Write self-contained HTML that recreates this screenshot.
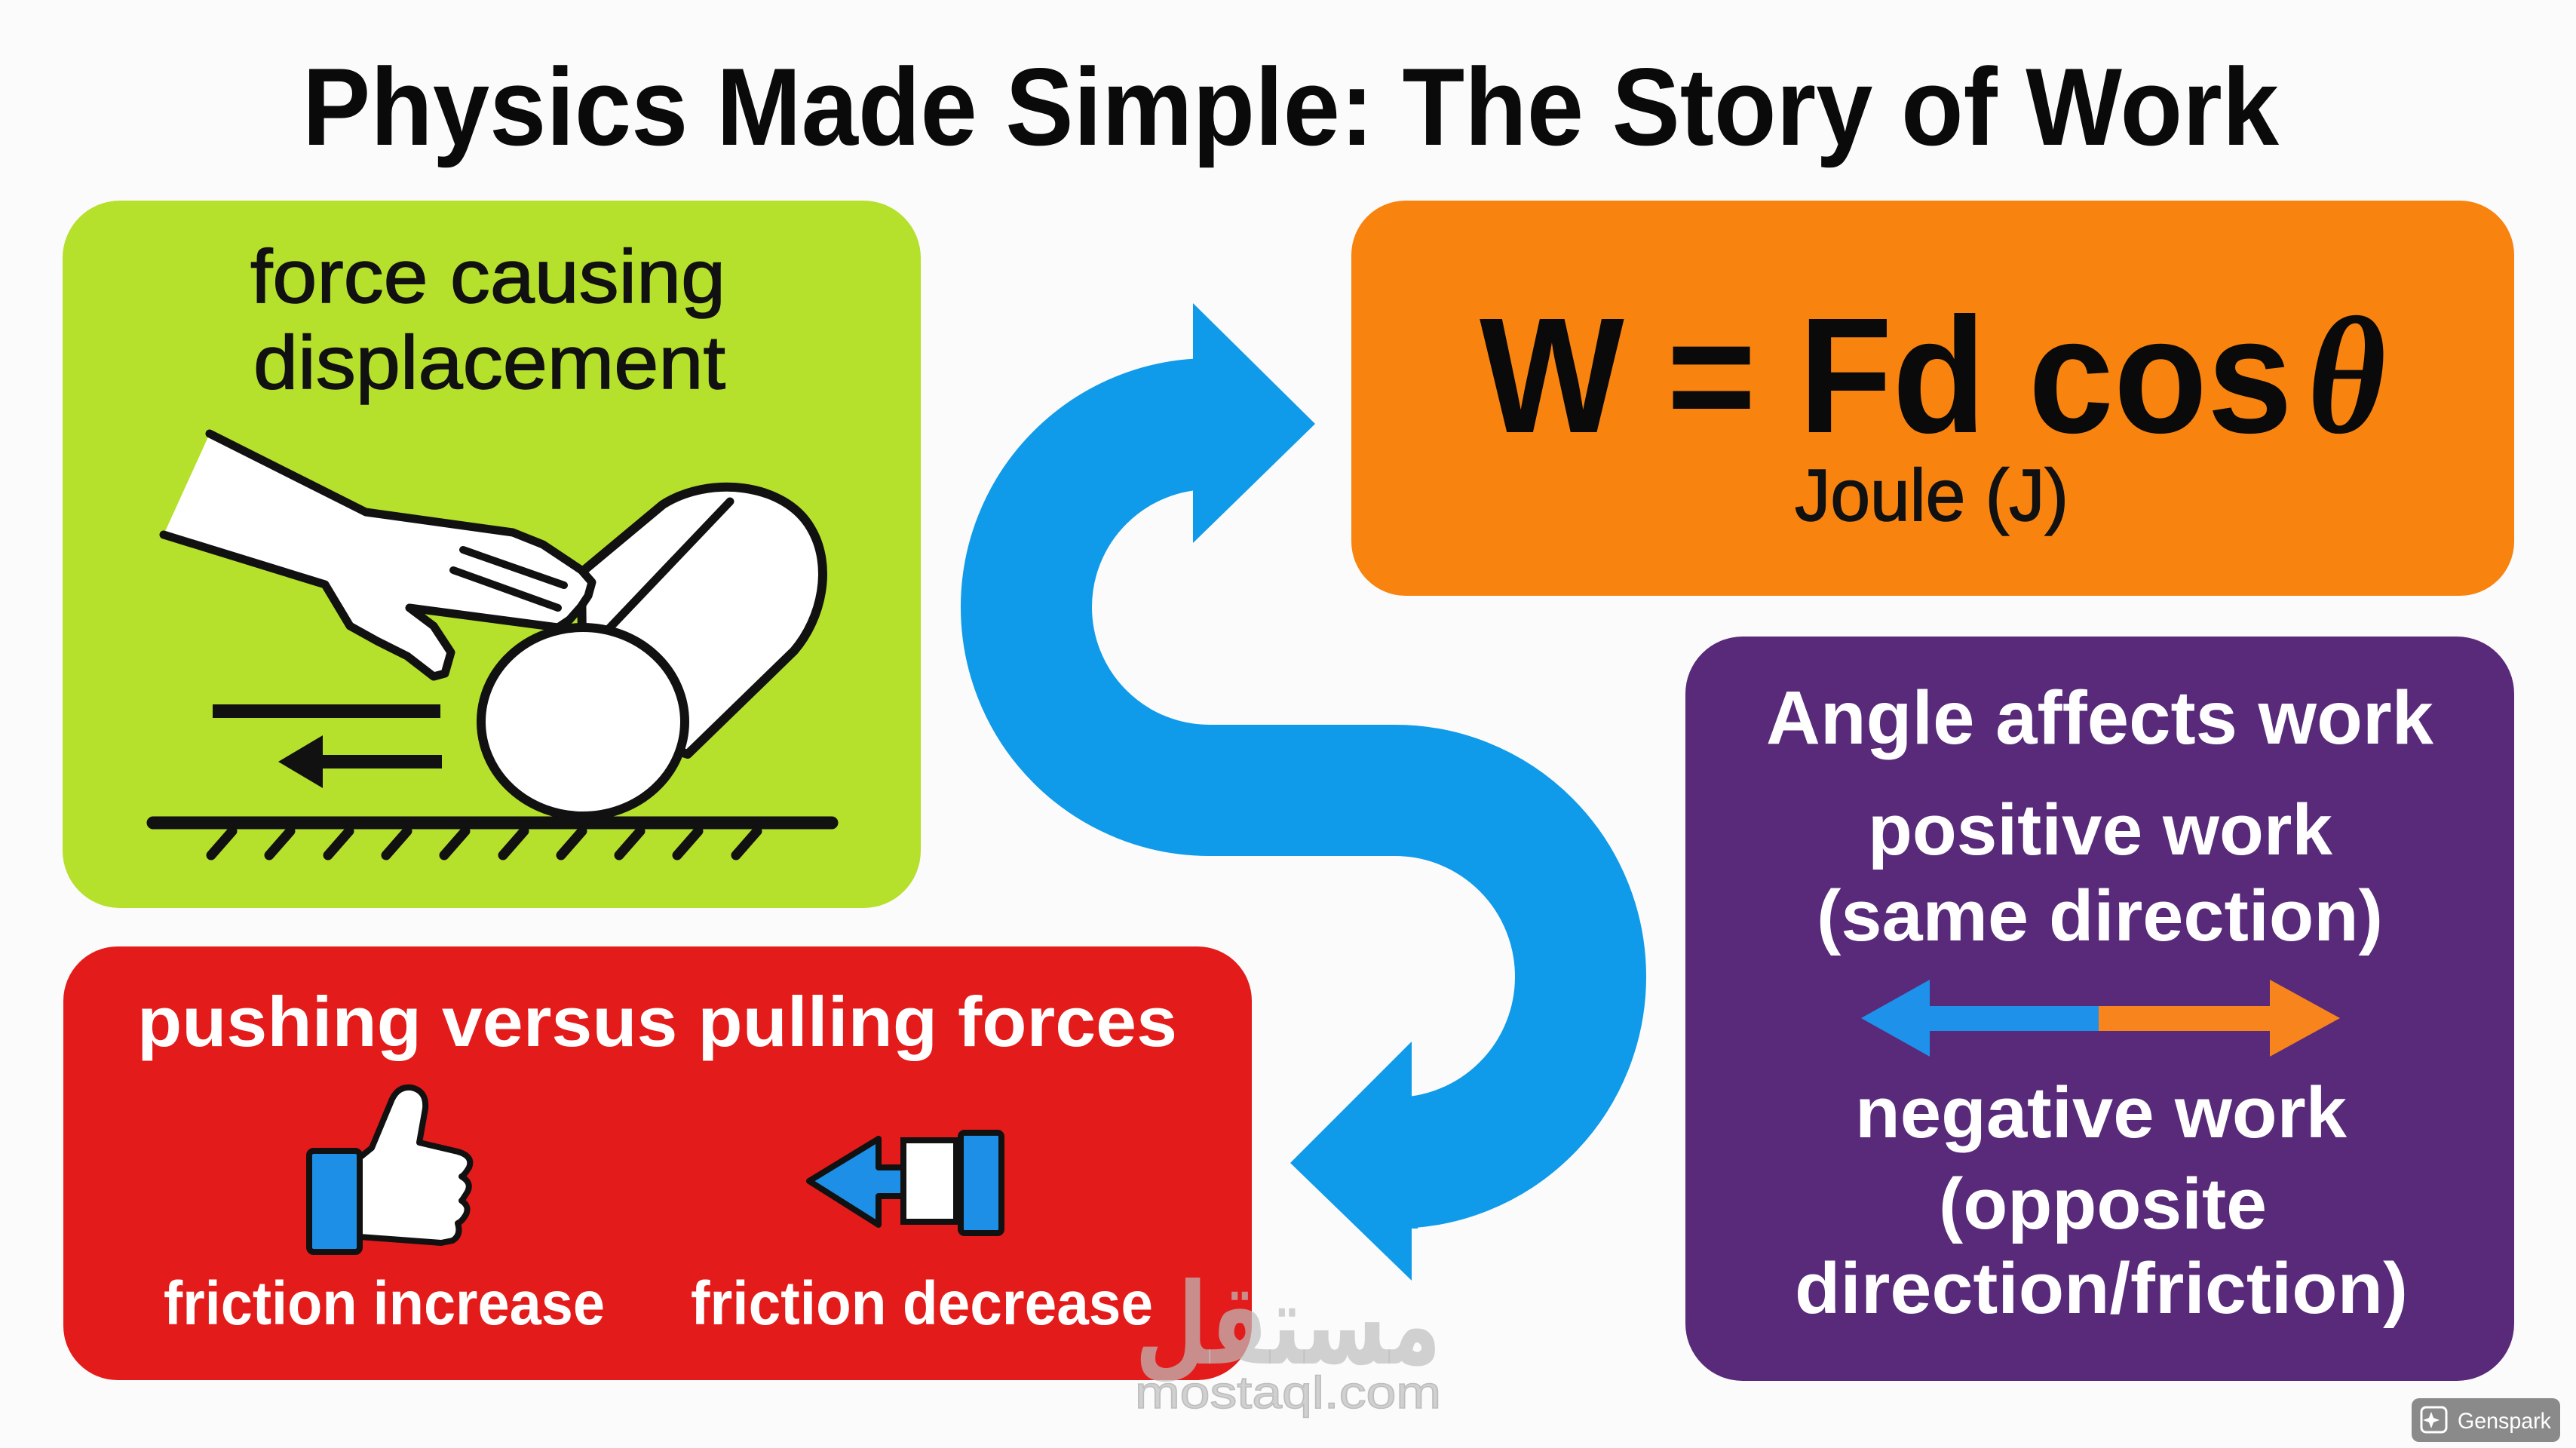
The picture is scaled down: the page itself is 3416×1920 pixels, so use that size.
<!DOCTYPE html>
<html>
<head>
<meta charset="utf-8">
<style>
  html, body { margin: 0; padding: 0; background: #fbfbfb; }
  body { width: 3416px; height: 1920px; overflow: hidden; }
  svg { display: block; }
  text { font-family: "Liberation Sans", "DejaVu Sans", sans-serif; }
</style>
</head>
<body>
<svg width="3416" height="1920" viewBox="0 0 3416 1920" xmlns="http://www.w3.org/2000/svg">
  <rect x="0" y="0" width="3416" height="1920" fill="#fbfbfb"/>

  <!-- Title -->
  <text x="401" y="192" font-size="146" font-weight="bold" fill="#0a0a0a" textLength="2621" lengthAdjust="spacingAndGlyphs">Physics Made Simple: The Story of Work</text>

  <!-- Green box -->
  <rect x="83" y="266" width="1138" height="938" rx="76" fill="#b5e02b"/>
  <text x="332" y="401" font-size="100" fill="#111" stroke="#111" stroke-width="1.5" textLength="630" lengthAdjust="spacingAndGlyphs">force causing</text>
  <text x="336" y="515" font-size="100" fill="#111" stroke="#111" stroke-width="1.5" textLength="626" lengthAdjust="spacingAndGlyphs">displacement</text>

  <!-- speed lines -->
  <line x1="282" y1="943" x2="584" y2="943" stroke="#111" stroke-width="18"/>
  <line x1="420" y1="1010" x2="586" y2="1010" stroke="#111" stroke-width="18"/>
  <polygon points="369,1010 428,975 428,1045" fill="#111"/>

  <!-- ground -->
  <line x1="203" y1="1091" x2="1103" y2="1091" stroke="#111" stroke-width="17" stroke-linecap="round"/>
  <g stroke="#111" stroke-width="13" stroke-linecap="round">
    <line x1="308" y1="1102" x2="280" y2="1134"/>
    <line x1="385" y1="1102" x2="357" y2="1134"/>
    <line x1="463" y1="1102" x2="435" y2="1134"/>
    <line x1="540" y1="1102" x2="512" y2="1134"/>
    <line x1="617" y1="1102" x2="589" y2="1134"/>
    <line x1="695" y1="1102" x2="667" y2="1134"/>
    <line x1="772" y1="1102" x2="744" y2="1134"/>
    <line x1="849" y1="1102" x2="821" y2="1134"/>
    <line x1="926" y1="1102" x2="898" y2="1134"/>
    <line x1="1004" y1="1102" x2="976" y2="1134"/>
  </g>

  <!-- cylinder body -->
  <path d="M 771 759 L 879 669 C 940 630 1040 640 1075 700 C 1105 750 1090 820 1053 863 L 912 1000 L 773 956 Z" fill="#fff" stroke="#111" stroke-width="12" stroke-linejoin="round"/>
  <ellipse cx="773" cy="957" rx="135" ry="125" fill="#fff" stroke="#111" stroke-width="12"/>
  <line x1="968" y1="665" x2="808" y2="833" stroke="#111" stroke-width="11" stroke-linecap="round"/>

  <!-- hand -->
  <polygon points="278,575 485,679 680,706 720,722 771,756 785,772 780,790 770,805 755,822 740,832 543,806 575,830 598,865 590,893 575,897 540,870 500,850 464,830 431,775 217,709" fill="#fff"/>
  <polyline points="278,575 485,679 680,706 720,722 771,756 785,772 780,790 770,805 755,822 740,832 543,806 575,830 598,865 590,893 575,897 540,870 500,850 464,830 431,775 217,709" fill="none" stroke="#111" stroke-width="11" stroke-linejoin="round" stroke-linecap="round"/>
  <line x1="614" y1="729" x2="748" y2="776" stroke="#111" stroke-width="10" stroke-linecap="round"/>
  <line x1="601" y1="756" x2="740" y2="806" stroke="#111" stroke-width="10" stroke-linecap="round"/>

  <!-- Orange box -->
  <rect x="1792" y="266" width="1542" height="524" rx="72" fill="#f8830f"/>
  <text x="1962" y="573" font-size="218" font-weight="bold" fill="#0a0a0a" textLength="1078" lengthAdjust="spacingAndGlyphs">W = Fd cos</text>
  <text x="3060" y="573" font-size="222" font-weight="bold" font-style="italic" fill="#0a0a0a" style="font-family:'Liberation Serif','DejaVu Serif',serif" textLength="104" lengthAdjust="spacingAndGlyphs">θ</text>
  <text x="2380" y="690" font-size="97" fill="#111" stroke="#111" stroke-width="1.6" textLength="363" lengthAdjust="spacingAndGlyphs">Joule (J)</text>

  <!-- Purple box -->
  <rect x="2235" y="844" width="1099" height="987" rx="76" fill="#582a79"/>
  <g fill="#ffffff" font-weight="bold">
    <text x="2342" y="986" font-size="100" textLength="885" lengthAdjust="spacingAndGlyphs">Angle affects work</text>
    <text x="2477" y="1133" font-size="96" textLength="616" lengthAdjust="spacingAndGlyphs">positive work</text>
    <text x="2409" y="1247" font-size="96" textLength="751" lengthAdjust="spacingAndGlyphs">(same direction)</text>
    <text x="2460" y="1508" font-size="96" textLength="652" lengthAdjust="spacingAndGlyphs">negative work</text>
    <text x="2571" y="1629" font-size="96" textLength="435" lengthAdjust="spacingAndGlyphs">(opposite</text>
    <text x="2380" y="1741" font-size="96" textLength="813" lengthAdjust="spacingAndGlyphs">direction/friction)</text>
  </g>
  <!-- double arrow -->
  <polygon points="2468,1350 2559,1299 2559,1334 2785,1334 2785,1367 2559,1367 2559,1401" fill="#1e92ea"/>
  <polygon points="3103,1350 3010,1299 3010,1334 2783,1334 2783,1367 3010,1367 3010,1401" fill="#f7841c"/>

  <!-- Red box -->
  <rect x="84" y="1255" width="1576" height="575" rx="72" fill="#e31b1a"/>
  <g fill="#ffffff" font-weight="bold">
    <text x="182" y="1387" font-size="94" textLength="1379" lengthAdjust="spacingAndGlyphs">pushing versus pulling forces</text>
    <text x="217" y="1756" font-size="82" textLength="585" lengthAdjust="spacingAndGlyphs">friction increase</text>
    <text x="916" y="1756" font-size="82" textLength="613" lengthAdjust="spacingAndGlyphs">friction decrease</text>
  </g>
  <!-- thumbs up -->
  <rect x="410" y="1526" width="67" height="134" rx="6" fill="#1d8fe6" stroke="#111" stroke-width="8"/>
  <path d="M 477 1535 L 493 1522 L 518 1462 Q 526 1440 545 1442 Q 566 1446 564 1470 L 556 1515 L 607 1527 Q 628 1533 622 1548 Q 616 1558 612 1560 Q 626 1568 620 1580 Q 614 1590 612 1592 Q 624 1600 617 1612 Q 612 1620 607 1622 Q 612 1638 600 1645 L 585 1648 L 477 1640 Z" fill="#fff" stroke="#111" stroke-width="8" stroke-linejoin="round"/>
  <!-- left arrow icon -->
  <polygon points="1073,1566 1165,1510 1165,1548 1200,1548 1200,1586 1165,1586 1165,1624" fill="#1d8fe6" stroke="#111" stroke-width="8" stroke-linejoin="round"/>
  <rect x="1198" y="1512" width="70" height="108" fill="#fff" stroke="#111" stroke-width="8"/>
  <rect x="1274" y="1502" width="54" height="133" rx="5" fill="#1d8fe6" stroke="#111" stroke-width="8"/>

  <!-- Blue S arrow -->
  <path d="M 1610 562 L 1604 562 A 243 243 0 0 0 1604 1048 L 1850 1048 A 246 247 0 0 1 1850 1542 L 1880 1542" fill="none" stroke="#0f9aea" stroke-width="174"/>
  <polygon points="1582,402 1744,562 1582,720" fill="#0f9aea"/>
  <polygon points="1872,1381 1711,1542 1872,1698" fill="#0f9aea"/>

  <!-- Watermark -->
  <g fill="#bdbdbd" fill-opacity="0.7">
    <text x="1505" y="1808" font-size="150" font-weight="bold" style="font-family:'DejaVu Sans',sans-serif" textLength="406" lengthAdjust="spacingAndGlyphs">مستقل</text>
    <text x="1505" y="1867" font-size="60" stroke="#bdbdbd" stroke-width="1.5" textLength="406" lengthAdjust="spacingAndGlyphs">mostaql.com</text>
  </g>

  <!-- Genspark badge -->
  <rect x="3198" y="1854" width="197" height="58" rx="10" fill="#8a8a8a"/>
  <rect x="3211" y="1866" width="33" height="33" rx="6" fill="none" stroke="#fff" stroke-width="3"/>
  <path d="M 3224 1872 L 3227 1880 L 3235 1883 L 3227 1886 L 3224 1894 L 3221 1886 L 3213 1883 L 3221 1880 Z" fill="#fff"/>
  <text x="3259" y="1894" font-size="30" fill="#fff" textLength="124" lengthAdjust="spacingAndGlyphs">Genspark</text>
</svg>
</body>
</html>
